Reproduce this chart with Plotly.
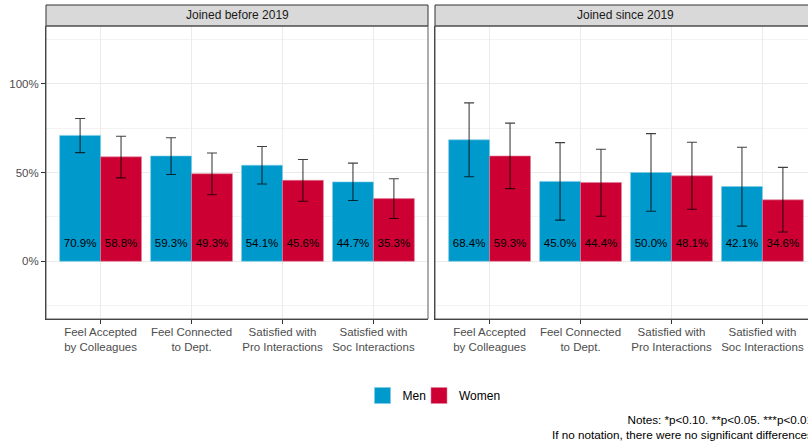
import plotly.graph_objects as go

# Survey outcomes by gender, split by year of joining
categories = [
    "Feel Accepted<br>by Colleagues",
    "Feel Connected<br>to Dept.",
    "Satisfied with<br>Pro Interactions",
    "Satisfied with<br>Soc Interactions",
]
cat_pos = [1, 2, 3, 4]

men_before = [70.9, 59.3, 54.1, 44.7]
women_before = [58.8, 49.3, 45.6, 35.3]
men_since = [68.4, 45.0, 50.0, 42.1]
women_since = [59.3, 44.4, 48.1, 34.6]

# 95% confidence bounds
men_before_lo = [61.2, 48.9, 43.5, 34.2]
men_before_hi = [80.4, 69.6, 64.6, 55.3]
women_before_lo = [47.0, 37.5, 33.8, 24.1]
women_before_hi = [70.4, 61.0, 57.3, 46.5]
men_since_lo = [47.6, 23.2, 28.2, 19.8]
men_since_hi = [89.2, 66.8, 71.9, 64.2]
women_since_lo = [40.9, 25.4, 29.3, 16.5]
women_since_hi = [77.8, 63.1, 67.0, 52.9]

facet_titles = ["Joined before 2019", "Joined since 2019"]
groups = ["Men", "Women"]
colors = {"Men": "#0099CC", "Women": "#CC0033"}
outline = {"Men": "#7fcce6", "Women": "#e0809a"}

W, H = 808, 442
FONT = "Liberation Sans, Arial, sans-serif"

def px_x(p):
    return p / W

def px_y(p):
    return 1 - p / H

panel_top, panel_bot = 26, 319
left_x0, left_x1 = 46, 428
right_x0 = 435
unit_px = (left_x1 - left_x0) / 4.2
right_range_end = 0.4 + (W - right_x0) / unit_px

fig = go.Figure()

panels = [
    ("x", "y", {"Men": (men_before, men_before_lo, men_before_hi),
                "Women": (women_before, women_before_lo, women_before_hi)}),
    ("x2", "y2", {"Men": (men_since, men_since_lo, men_since_hi),
                  "Women": (women_since, women_since_lo, women_since_hi)}),
]

label_y = 9.4
for xa, ya, data in panels:
    for gi, g in enumerate(groups):
        vals, lo, hi = data[g]
        fig.add_trace(go.Bar(
            x=cat_pos, y=vals, name=g, xaxis=xa, yaxis=ya,
            offsetgroup=g, showlegend=False,
            marker=dict(color=colors[g], line=dict(color=outline[g], width=0.6)),
            error_y=dict(type="data", symmetric=False,
                         array=[h - v for h, v in zip(hi, vals)],
                         arrayminus=[v - l for v, l in zip(vals, lo)],
                         color="rgba(0,0,0,0.75)", thickness=1.1, width=5),
            hoverinfo="skip",
        ))
        offset = -0.225 if gi == 0 else 0.225
        fig.add_trace(go.Scatter(
            x=[c + offset for c in cat_pos], y=[label_y] * len(vals),
            mode="text", text=[f"{v:.1f}%" for v in vals],
            textfont=dict(family=FONT, size=11.5, color="black"),
            xaxis=xa, yaxis=ya, showlegend=False, hoverinfo="skip",
        ))

# legend entries, one legend box per group
for g, leg in zip(groups, ["legend", "legend2"]):
    fig.add_trace(go.Scatter(
        x=[None], y=[None], mode="markers", name=g, legend=leg,
        marker=dict(symbol="square", size=17, color=colors[g],
                    line=dict(color=outline[g], width=0.6)),
    ))

y_dom = [px_y(panel_bot), px_y(panel_top)]
common_x = dict(
    tickmode="array", tickvals=cat_pos, ticktext=categories,
    showgrid=True, gridcolor="#ebebeb", gridwidth=1,
    ticks="outside", ticklen=4, tickcolor="#333333", tickwidth=1,
    tickfont=dict(family=FONT, size=11.5, color="#4d4d4d"),
    ticklabelstandoff=-2,
    showline=True, linecolor="#333333", linewidth=1,
    zeroline=False, fixedrange=True,
)
common_y = dict(
    range=[-32.5, 132.5], domain=y_dom,
    tickmode="linear", tick0=0, dtick=50, ticksuffix="%",
    showgrid=True, gridcolor="#ebebeb", gridwidth=1,
    minor=dict(dtick=25, tick0=0, showgrid=True, gridcolor="#f3f3f3", gridwidth=0.6),
    showline=True, linecolor="#333333", linewidth=1,
    zeroline=False, fixedrange=True,
)

legend_style = dict(orientation="h", xanchor="left", yanchor="top",
                    font=dict(family=FONT, size=12, color="black"),
                    itemsizing="trace", bgcolor="rgba(0,0,0,0)")

fig.update_layout(
    width=W, height=H,
    margin=dict(l=0, r=0, t=0, b=0),
    paper_bgcolor="white", plot_bgcolor="white",
    barmode="group", bargap=0.1, bargroupgap=0,
    font=dict(family=FONT, size=11.5, color="#4d4d4d"),
    xaxis=dict(domain=[px_x(left_x0), px_x(left_x1)], range=[0.4, 4.6], anchor="y", **common_x),
    xaxis2=dict(domain=[px_x(right_x0), 1], range=[0.4, right_range_end], anchor="y2", **common_x),
    yaxis=dict(anchor="x", ticks="outside", ticklen=4, tickcolor="#333333",
               tickfont=dict(family=FONT, size=11.5, color="#4d4d4d"), **common_y),
    yaxis2=dict(anchor="x2", showticklabels=False, ticks="", **common_y),
    legend=dict(x=px_x(362.5), y=px_y(381), **legend_style),
    legend2=dict(x=px_x(419), y=px_y(381), **legend_style),
    showlegend=True,
)

# facet strips and panel borders
strips = [(left_x0, left_x1), (right_x0, W + 8)]
for (x0, x1), title in zip(strips, facet_titles):
    fig.add_shape(type="rect", xref="paper", yref="paper",
                  x0=px_x(x0), x1=px_x(x1), y0=px_y(26), y1=px_y(5),
                  fillcolor="#d9d9d9", line=dict(color="#333333", width=1), layer="above")
    fig.add_shape(type="rect", xref="paper", yref="paper",
                  x0=px_x(x0), x1=px_x(x1), y0=px_y(panel_bot), y1=px_y(panel_top),
                  fillcolor="rgba(0,0,0,0)", line=dict(color="#5a5a5a", width=1), layer="above")
    fig.add_annotation(xref="paper", yref="paper", x=px_x((x0 + x1) / 2), y=px_y(15.5),
                       text=title, showarrow=False, xanchor="center", yanchor="middle",
                       font=dict(family=FONT, size=12, color="#1a1a1a"))

fig.add_annotation(
    xref="paper", yref="paper", x=px_x(815), y=px_y(411), xanchor="right", yanchor="top",
    align="right", showarrow=False,
    text="Notes: *p<0.10. **p<0.05. ***p<0.01<br>If no notation, there were no significant differences",
    font=dict(family=FONT, size=11.7, color="black"),
)

fig.write_html("out.html")
